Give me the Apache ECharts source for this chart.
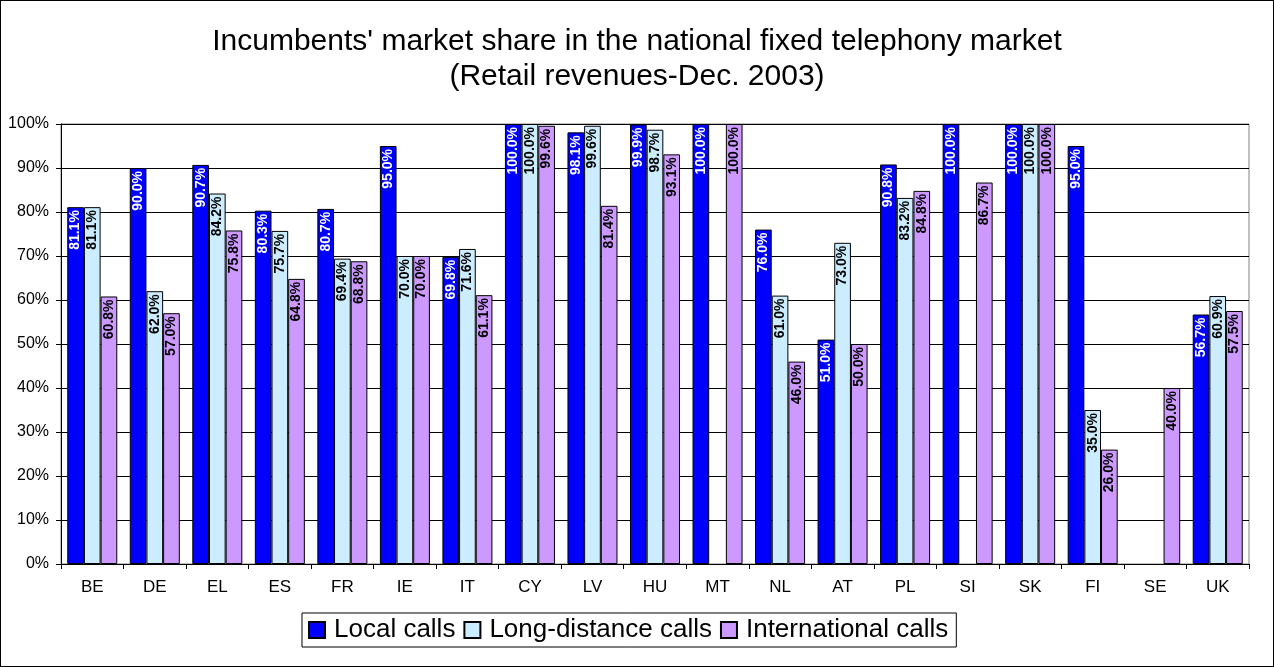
<!DOCTYPE html>
<html>
<head>
<meta charset="utf-8">
<script src="https://cdn.jsdelivr.net/npm/echarts@6/dist/echarts.min.js"></script>
<style>
  html, body { margin: 0; padding: 0; background: #fff; }
  #chart { width: 1274px; height: 667px; box-sizing: border-box; border: 1px solid #000; }
</style>
</head>
<body>
<div id="chart"></div>
<script>
const countries = ['BE', 'DE', 'EL', 'ES', 'FR', 'IE', 'IT', 'CY', 'LV', 'HU', 'MT', 'NL', 'AT', 'PL', 'SI', 'SK', 'FI', 'SE', 'UK']
// null = no data for that country
const localCalls = [81.1, 90.0, 90.7, 80.3, 80.7, 95.0, 69.8, 100.0, 98.1, 99.9, 100.0, 76.0, 51.0, 90.8, 100.0, 100.0, 95.0, null, 56.7]
const longDistanceCalls = [81.1, 62.0, 84.2, 75.7, 69.4, 70.0, 71.6, 100.0, 99.6, 98.7, null, 61.0, 73.0, 83.2, null, 100.0, 35.0, null, 60.9]
const internationalCalls = [60.8, 57.0, 75.8, 64.8, 68.8, 70.0, 61.1, 99.6, 81.4, 93.1, 100.0, 46.0, 50.0, 84.8, 86.7, 100.0, 26.0, 40.0, 57.5]

const font = '"Liberation Sans", Arial, sans-serif'

function barSeries(name, data, color, labelColor) {
  return {
    name,
    type: 'bar',
    data,
    barGap: '0%',
    barCategoryGap: '20%',
    itemStyle: { color, borderColor: '#000', borderWidth: 1 },
    label: {
      show: true,
      position: 'insideTop',
      rotate: 90,
      align: 'right',
      verticalAlign: 'middle',
      distance: 3,
      color: labelColor,
      fontFamily: font,
      fontWeight: 'bold',
      fontSize: 14,
      formatter: (p) => (p.value == null ? '' : p.value.toFixed(1) + '%'),
    },
  }
}

const chart = echarts.init(document.getElementById('chart'))
chart.setOption({
  animation: false,
  title: {
    text: "Incumbents' market share in the national fixed telephony market\n(Retail revenues-Dec. 2003)",
    left: 'center',
    top: 18,
    textStyle: { fontFamily: font, fontSize: 30, fontWeight: 'normal', color: '#000', lineHeight: 35 },
  },
  legend: {
    bottom: 19,
    left: 301,
    data: ['Local calls', 'Long-distance calls', 'International calls'],
    icon: 'rect',
    itemWidth: 16,
    itemHeight: 16,
    itemGap: 8,
    padding: [4, 8, 4, 6],
    borderColor: '#000',
    borderWidth: 1,
    textStyle: { fontFamily: font, fontSize: 26, color: '#000', padding: [0, 0, 0, 4] },
  },
  grid: {
    left: 60,
    right: 24,
    top: 123,
    bottom: 102,
    show: true,
    borderColor: '#808080',
    borderWidth: 1,
  },
  xAxis: {
    type: 'category',
    data: countries,
    axisLine: { lineStyle: { color: '#000', width: 1 } },
    axisTick: { show: true, length: 5, lineStyle: { color: '#000' } },
    axisLabel: { fontFamily: font, fontSize: 17, color: '#000', margin: 15 },
  },
  yAxis: {
    type: 'value',
    min: 0,
    max: 100,
    interval: 10,
    axisLine: { show: true, lineStyle: { color: '#000', width: 1 } },
    axisTick: { show: true, length: 5, lineStyle: { color: '#000' } },
    axisLabel: { fontFamily: font, fontSize: 16, color: '#000', margin: 12, formatter: '{value}%' },
    splitLine: { lineStyle: { color: '#000', width: 1 } },
  },
  series: [
    barSeries('Local calls', localCalls, '#0000FF', '#fff'),
    barSeries('Long-distance calls', longDistanceCalls, '#CCECFF', '#000'),
    barSeries('International calls', internationalCalls, '#CC99FF', '#000'),
  ],
})
</script>
</body>
</html>
